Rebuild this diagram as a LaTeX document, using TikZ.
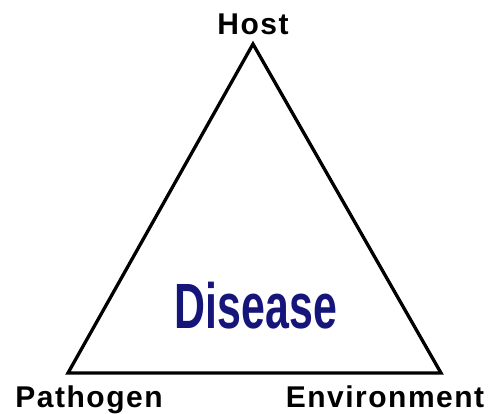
\documentclass[tikz,border=0pt]{standalone}
\usepackage{fontspec}
\setmainfont{Liberation Sans}
\newfontfamily\labelfont[LetterSpace=5]{Liberation Sans}
\definecolor{diseaseblue}{RGB}{22,22,122}
\begin{document}
\begin{tikzpicture}[x=1pt,y=-1pt,
  corner/.style={font=\labelfont\bfseries\fontsize{30}{30}\selectfont, anchor=base, inner sep=0pt},
  tri/.style={line width=3.3pt, line join=miter}]
\useasboundingbox (0,0) rectangle (490,414);
\coordinate (H) at (253,44);
\coordinate (P) at (68,373);
\coordinate (E) at (441,373);
\draw[tri] (H) -- (P) -- (E) -- cycle;
\node[corner] (host) at (253,35) {Host};
\node[corner] (path) at (89,407) {Pathogen};
\node[corner] (env) at (385,407) {Environment};
\node[anchor=base, inner sep=0pt, text=diseaseblue, xscale=0.67,
  font=\bfseries\fontsize{64}{64}\selectfont] (dis) at (256,328) {Disease};
\end{tikzpicture}
\end{document}
